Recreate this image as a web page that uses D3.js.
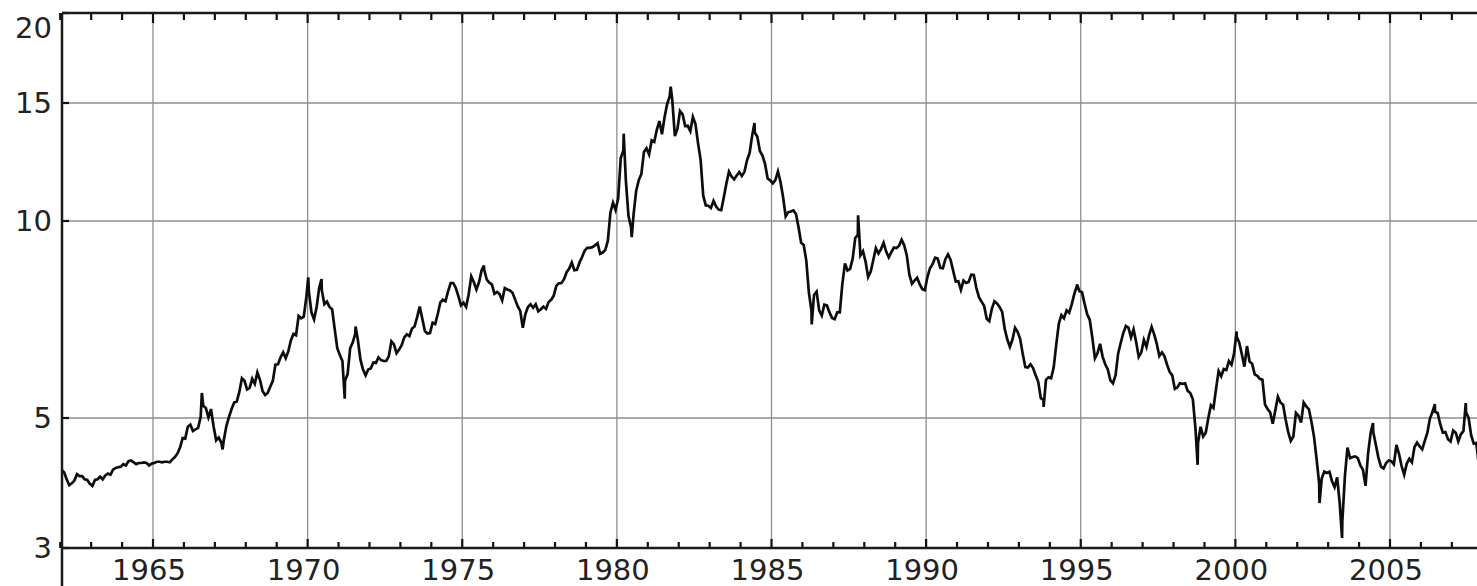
<!DOCTYPE html>
<html>
<head>
<meta charset="utf-8">
<script src="https://cdn.jsdelivr.net/npm/d3@7"></script>
<style>
  html, body { margin: 0; padding: 0; background: #fff; }
  svg { display: block; }
  text { font-family: "DejaVu Sans", sans-serif; font-size: 29px; fill: #222; }
</style>
</head>
<body>
<svg width="1477" height="586"></svg>
<script>
// monthly yields (%), Jan..Dec for each year
const firstYear = 1962;
const y1960s = [
  4.08, 4.04, 3.93, 3.84, 3.87, 3.91, 4.01, 3.98, 3.98, 3.93, 3.92, 3.86,
  3.83, 3.92, 3.93, 3.97, 3.93, 3.99, 4.02, 4.00, 4.08, 4.11, 4.12, 4.13,
  4.17, 4.15, 4.22, 4.23, 4.20, 4.17, 4.19, 4.19, 4.20, 4.19, 4.15, 4.18,
  4.19, 4.21, 4.21, 4.20, 4.21, 4.21, 4.20, 4.25, 4.29, 4.35, 4.45, 4.62,
  4.61, 4.83, 4.87, 4.75, 4.78, 4.81, 5.02, 5.22, 5.18, 5.01, 5.16, 4.84,
  4.58, 4.63, 4.54, 4.59, 4.85, 5.02, 5.16, 5.28, 5.30, 5.48, 5.75, 5.70,
  5.53, 5.56, 5.74, 5.64, 5.87, 5.72, 5.50, 5.42, 5.46, 5.58, 5.70, 6.03,
  6.04, 6.19, 6.30, 6.17, 6.32, 6.57, 6.72, 6.69, 7.16, 7.10, 7.14, 7.65
];
const y1970s = [
  7.79, 7.24, 7.07, 7.39, 7.91, 7.84, 7.46, 7.53, 7.39, 7.33, 6.84, 6.39,
  6.24, 6.11, 5.70, 5.83, 6.39, 6.52, 6.73, 6.58, 6.14, 5.93, 5.81, 5.93,
  5.95, 6.08, 6.07, 6.19, 6.13, 6.11, 6.11, 6.21, 6.55, 6.48, 6.28, 6.36,
  6.46, 6.64, 6.71, 6.67, 6.85, 6.90, 7.13, 7.40, 7.09, 6.79, 6.73, 6.74,
  6.99, 6.96, 7.21, 7.51, 7.58, 7.54, 7.81, 8.04, 8.04, 7.90, 7.68, 7.43,
  7.50, 7.39, 7.73, 8.23, 8.06, 7.86, 8.06, 8.40, 8.43, 8.14, 8.05, 8.00,
  7.74, 7.79, 7.73, 7.56, 7.90, 7.86, 7.83, 7.77, 7.59, 7.41, 7.29, 6.87,
  7.21, 7.39, 7.46, 7.37, 7.46, 7.28, 7.33, 7.40, 7.34, 7.52, 7.58, 7.69,
  7.96, 8.03, 8.04, 8.15, 8.35, 8.46, 8.64, 8.41, 8.42, 8.64, 8.81, 9.01,
  9.10, 9.10, 9.12, 9.18, 9.25, 8.91, 8.95, 9.03, 9.33, 10.30, 10.65, 10.39
];
const y1980s = [
  10.80, 12.41, 12.75, 11.47, 10.18, 9.78, 10.25, 11.10, 11.51, 11.75, 12.68, 12.84,
  12.57, 13.19, 13.12, 13.68, 14.10, 13.47, 14.28, 14.94, 15.32, 15.15, 13.39, 13.72,
  14.59, 14.43, 13.86, 13.87, 13.62, 14.30, 13.95, 13.06, 12.34, 10.91, 10.55, 10.54,
  10.46, 10.72, 10.51, 10.40, 10.38, 10.85, 11.38, 11.85, 11.65, 11.54, 11.69, 11.83,
  11.67, 11.84, 12.32, 12.63, 13.41, 13.56, 13.36, 12.72, 12.52, 12.16, 11.57, 11.50,
  11.38, 11.51, 11.86, 11.43, 10.85, 10.16, 10.31, 10.33, 10.37, 10.24, 9.78, 9.26,
  9.19, 8.70, 7.78, 7.30, 7.71, 7.80, 7.30, 7.17, 7.45, 7.43, 7.25, 7.11,
  7.08, 7.25, 7.25, 8.02, 8.61, 8.40, 8.45, 8.76, 9.42, 9.52, 8.86, 8.99,
  8.67, 8.21, 8.37, 8.72, 9.09, 8.92, 9.06, 9.26, 8.98, 8.80, 8.96, 9.11,
  9.09, 9.17, 9.36, 9.18, 8.86, 8.28, 8.02, 8.11, 8.19, 8.01, 7.87, 7.84
];
const y1990s = [
  8.21, 8.47, 8.59, 8.79, 8.76, 8.48, 8.47, 8.75, 8.89, 8.72, 8.39, 8.08,
  8.09, 7.85, 8.11, 8.04, 8.07, 8.28, 8.27, 7.90, 7.65, 7.53, 7.42, 7.09,
  7.03, 7.34, 7.54, 7.48, 7.39, 7.26, 6.84, 6.59, 6.42, 6.59, 6.87, 6.77,
  6.60, 6.26, 5.98, 5.97, 6.04, 5.96, 5.81, 5.68, 5.36, 5.33, 5.72, 5.77,
  5.75, 5.97, 6.48, 6.97, 7.18, 7.10, 7.30, 7.24, 7.46, 7.74, 7.96, 7.81,
  7.78, 7.47, 7.20, 7.06, 6.63, 6.17, 6.28, 6.49, 6.20, 6.04, 5.93, 5.71,
  5.65, 5.81, 6.27, 6.51, 6.74, 6.91, 6.87, 6.64, 6.83, 6.53, 6.20, 6.30,
  6.58, 6.42, 6.69, 6.89, 6.71, 6.49, 6.22, 6.30, 6.21, 6.03, 5.88, 5.81,
  5.54, 5.57, 5.65, 5.64, 5.65, 5.50, 5.46, 5.34, 4.81, 4.53, 4.83, 4.65,
  4.72, 5.00, 5.23, 5.18, 5.54, 5.90, 5.79, 5.94, 5.92, 6.11, 6.03, 6.28
];
const y2000s = [
  6.66, 6.52, 6.26, 5.99, 6.44, 6.10, 6.05, 5.83, 5.80, 5.74, 5.72, 5.24,
  5.16, 5.10, 4.89, 5.14, 5.39, 5.28, 5.24, 4.97, 4.73, 4.57, 4.65, 5.09,
  5.04, 4.91, 5.28, 5.21, 5.16, 4.93, 4.65, 4.26, 3.87, 3.94, 4.05, 4.03,
  4.05, 3.90, 3.81, 3.96, 3.57, 3.33, 3.98, 4.45, 4.27, 4.29, 4.30, 4.27,
  4.15, 4.08, 3.83, 4.35, 4.72, 4.73, 4.50, 4.28, 4.13, 4.10, 4.19, 4.23,
  4.22, 4.17, 4.50, 4.34, 4.14, 4.00, 4.18, 4.26, 4.20, 4.46, 4.54, 4.47,
  4.42, 4.57, 4.72, 4.99, 5.11, 5.11, 5.09, 4.88, 4.72, 4.73, 4.60, 4.56,
  4.76, 4.72, 4.56, 4.69, 4.75, 5.10, 5.00, 4.67, 4.52, 4.53, 4.15, 4.10
];
// weekly highs / lows that stand out in the chart: [decimal year, yield]
const spikes = [
  [1966.58, 5.46], [1967.25, 4.42], [1970.02, 8.2], [1970.45, 8.15],
  [1971.2, 5.35], [1971.55, 6.9], [1975.7, 8.55], [1980.22, 13.5],
  [1980.48, 9.45], [1981.74, 15.8], [1984.45, 14.0], [1986.3, 6.95],
  [1987.8, 10.2], [1993.8, 5.2], [1994.88, 8.0], [1998.78, 4.16],
  [2000.04, 6.78], [2002.72, 3.58], [2003.45, 3.12], [2004.45, 4.9],
  [2006.45, 5.25], [2007.45, 5.27]
];

const yTicks = [3, 5, 10, 15, 20];
const majorYears = d3.range(1965, 2006, 5);
const minorYears = d3.range(1962, 2009);

const monthly = [...y1960s, ...y1970s, ...y1980s, ...y1990s, ...y2000s]
  .map((v, i) => [firstYear + (i + 0.5) / 12, v]);
const data = monthly.concat(spikes).sort((a, b) => a[0] - b[0]);

const svg = d3.select("svg");
const plotLeft = 62, plotTop = 13, plotBottom = 548, plotRight = 1490;

const x = d3.scaleLinear().domain([1965, 2005]).range([153, 1390]);
// scanned axis is not quite uniform, so pin each labelled value
const y = d3.scaleLog().domain([3, 5, 10, 15, 20]).range([plotBottom, 418, 221, 103, plotTop]);

svg.append("defs").append("clipPath").attr("id", "plot")
  .append("rect").attr("x", plotLeft).attr("y", plotTop)
  .attr("width", plotRight - plotLeft).attr("height", plotBottom - plotTop);

// grid
svg.append("g").selectAll("line").data(majorYears).join("line")
  .attr("x1", d => x(d)).attr("x2", d => x(d))
  .attr("y1", plotTop).attr("y2", plotBottom)
  .attr("stroke", "#8e8e8e").attr("stroke-width", 1.3);

svg.append("g").selectAll("line").data(yTicks.slice(1, -1)).join("line")
  .attr("x1", plotLeft).attr("x2", plotRight)
  .attr("y1", d => y(d)).attr("y2", d => y(d))
  .attr("stroke", "#8e8e8e").attr("stroke-width", 1.3);

// yearly ticks, bottom and top
const tickG = svg.append("g").attr("stroke", "#111");
tickG.selectAll(".tb").data(minorYears).join("line").attr("class", "tb")
  .attr("x1", d => x(d)).attr("x2", d => x(d))
  .attr("y1", plotBottom).attr("y2", d => plotBottom - (d % 5 === 0 ? 9 : 6))
  .attr("stroke-width", 2.2);
tickG.selectAll(".tt").data(minorYears).join("line").attr("class", "tt")
  .attr("x1", d => x(d)).attr("x2", d => x(d))
  .attr("y1", plotTop).attr("y2", d => plotTop + (d % 5 === 0 ? 10 : 7))
  .attr("stroke-width", 2.2);
tickG.selectAll(".tl").data(yTicks).join("line").attr("class", "tl")
  .attr("x1", plotLeft).attr("x2", plotLeft + 7)
  .attr("y1", d => y(d)).attr("y2", d => y(d))
  .attr("stroke-width", 2.2);

// series
const line = d3.line().x(d => x(d[0])).y(d => y(d[1]));
svg.append("path").datum(data)
  .attr("clip-path", "url(#plot)")
  .attr("fill", "none").attr("stroke", "#0d0d0d")
  .attr("stroke-width", 2.7).attr("stroke-linejoin", "miter")
  .attr("d", line);

// frame
svg.append("line").attr("x1", plotLeft).attr("x2", plotRight).attr("y1", plotTop).attr("y2", plotTop)
  .attr("stroke", "#1a1a1a").attr("stroke-width", 2.5);
svg.append("line").attr("x1", plotLeft).attr("x2", plotRight).attr("y1", plotBottom).attr("y2", plotBottom)
  .attr("stroke", "#1a1a1a").attr("stroke-width", 2.5);
svg.append("line").attr("x1", plotLeft).attr("x2", plotLeft).attr("y1", plotTop).attr("y2", 586)
  .attr("stroke", "#1a1a1a").attr("stroke-width", 2.5);

// labels
svg.append("g").selectAll("text").data(majorYears).join("text")
  .attr("x", d => x(d) - 4).attr("y", 580)
  .attr("text-anchor", "middle")
  .text(d3.format("d"));

svg.append("g").selectAll("text").data(yTicks).join("text")
  .attr("x", 52)
  .attr("y", d => Math.max(y(d), 28))
  .attr("dy", "0.36em")
  .attr("text-anchor", "end")
  .text(d => d);
</script>
</body>
</html>
